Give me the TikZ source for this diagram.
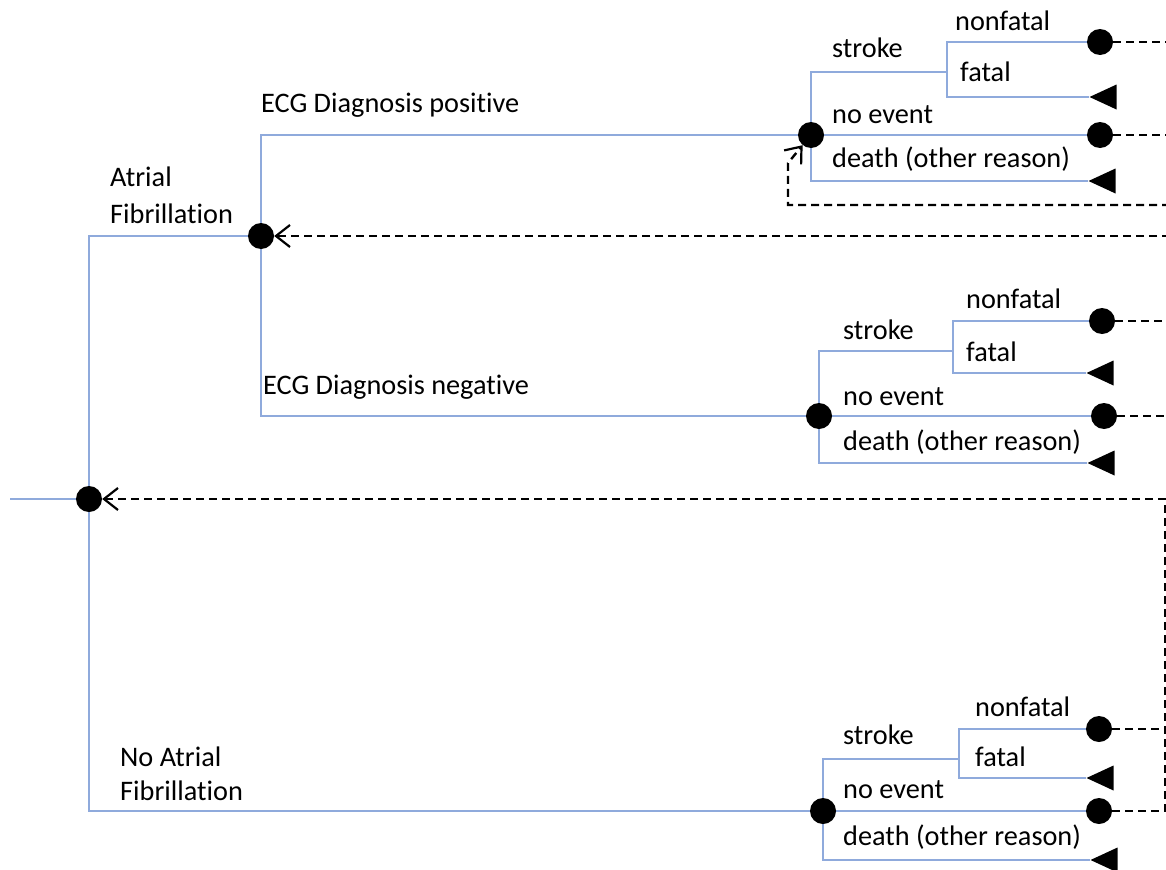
\documentclass[tikz,border=0pt]{standalone}
\usepackage{fontspec}
\setmainfont{Carlito}[Ligatures=NoCommon]
\usetikzlibrary{arrows.meta,shapes.geometric}
\definecolor{lineblue}{HTML}{8FAADC}
\pgfdeclarelayer{bg}
\pgfsetlayers{bg,main}
\begin{document}
\begin{tikzpicture}[x=1bp,y=-1bp,
 branch/.style={draw=lineblue,line width=2bp},
 chance/.style={circle,fill=black,inner sep=0pt,minimum size=26bp},
 term/.style={isosceles triangle,isosceles triangle stretches,fill=black,inner sep=0pt,minimum height=27bp,minimum width=25bp,shape border rotate=180,anchor=apex},
 retline/.style={draw=black,line width=2.4bp,dash pattern=on 8bp off 5bp},
 retarrow/.style={retline,-{Straight Barb[length=14bp,width=22bp,line width=2.2bp]}},
 lbl/.style={anchor=base west,inner sep=0pt,font=\fontsize{28.4}{34}\selectfont,align=left}]
\useasboundingbox (0,0) rectangle (1166,870);
% nodes
\node[chance] (R) at (89,499) {};
\coordinate (start) at (10,499);
\node[chance] (AF) at (261,236) {};
\node[chance] (C1) at (811,135) {};
\node[chance] (C2) at (819,416) {};
\node[chance] (C3) at (823,811) {};
\node[chance] (N1) at (1100,42) {};
\node[term] (F1) at (1089,97) {};
\node[chance] (E1) at (1100,135) {};
\node[term] (D1) at (1088,181) {};
\node[chance] (N2) at (1102,321) {};
\node[term] (F2) at (1086,373) {};
\node[chance] (E2) at (1104,416) {};
\node[term] (D2) at (1087,463) {};
\node[chance] (N3) at (1099,729) {};
\node[term] (F3) at (1086,778) {};
\node[chance] (E3) at (1099,811) {};
\node[term] (D3) at (1090,860) {};
\coordinate (S1) at (947,72);
\coordinate (S2) at (953,351);
\coordinate (S3) at (959,759);
% branches
\begin{pgfonlayer}{bg}
\draw[branch] (start) -- (R.center);
\draw[branch] (AF.center) -| (R.center) |- (C3.center);
\draw[branch] (C1.center) -| (AF.center) |- (C2.center);
\draw[branch] (C1.center) |- (S1);
\draw[branch] (N1.center) -| (S1) |- (F1.apex);
\draw[branch] (C1.center) -- (E1.center);
\draw[branch] (C1.center) |- (D1.apex);
\draw[branch] (C2.center) |- (S2);
\draw[branch] (N2.center) -| (S2) |- (F2.apex);
\draw[branch] (C2.center) -- (E2.center);
\draw[branch] (C2.center) |- (D2.apex);
\draw[branch] (C3.center) |- (S3);
\draw[branch] (N3.center) -| (S3) |- (F3.apex);
\draw[branch] (C3.center) -- (E3.center);
\draw[branch] (C3.center) |- (D3.apex);
\end{pgfonlayer}
% return loops
\coordinate (x1) at (1170,42);
\coordinate (x2) at (1170,135);
\coordinate (x3) at (1170,205);
\coordinate (k1) at (788,163);
\coordinate (x4) at (1170,236);
\coordinate (x5) at (1170,321);
\coordinate (x6) at (1170,416);
\coordinate (J) at (1165,499);
\draw[retline] (N1) -- (x1);
\draw[retline] (E1) -- (x2);
\draw[retarrow] (x3) -| (k1) -- (C1);
\draw[retarrow] (x4) -- (AF);
\draw[retline] (N2) -- (x5);
\draw[retline] (E2) -- (x6);
\draw[retline] (N3) -- (N3 -| J);
\draw[retarrow] (E3) -| (J) -- (R);
% labels
\node[lbl] (lAF) at (110,223) {Atrial\\[3bp]Fibrillation};
\node[lbl] (lpos) at (261,112) {ECG Diagnosis positive};
\node[lbl] (lneg) at (263,394) {ECG Diagnosis negative};
\node[lbl] (lNAF) at (120,800) {No Atrial\\Fibrillation};
\node[lbl] (a1) at (955,30) {nonfatal};
\node[lbl] (a2) at (832,57) {stroke};
\node[lbl] (a3) at (960,81) {fatal};
\node[lbl] (a4) at (832,123) {no event};
\node[lbl] (a5) at (832,167) {death (other reason)};
\node[lbl] (b1) at (966,308) {nonfatal};
\node[lbl] (b2) at (843,339) {stroke};
\node[lbl] (b3) at (966,361) {fatal};
\node[lbl] (b4) at (843,405) {no event};
\node[lbl] (b5) at (843,450) {death (other reason)};
\node[lbl] (c1) at (975,716) {nonfatal};
\node[lbl] (c2) at (843,744) {stroke};
\node[lbl] (c3) at (975,766) {fatal};
\node[lbl] (c4) at (843,798) {no event};
\node[lbl] (c5) at (843,845) {death (other reason)};
\end{tikzpicture}
\end{document}
